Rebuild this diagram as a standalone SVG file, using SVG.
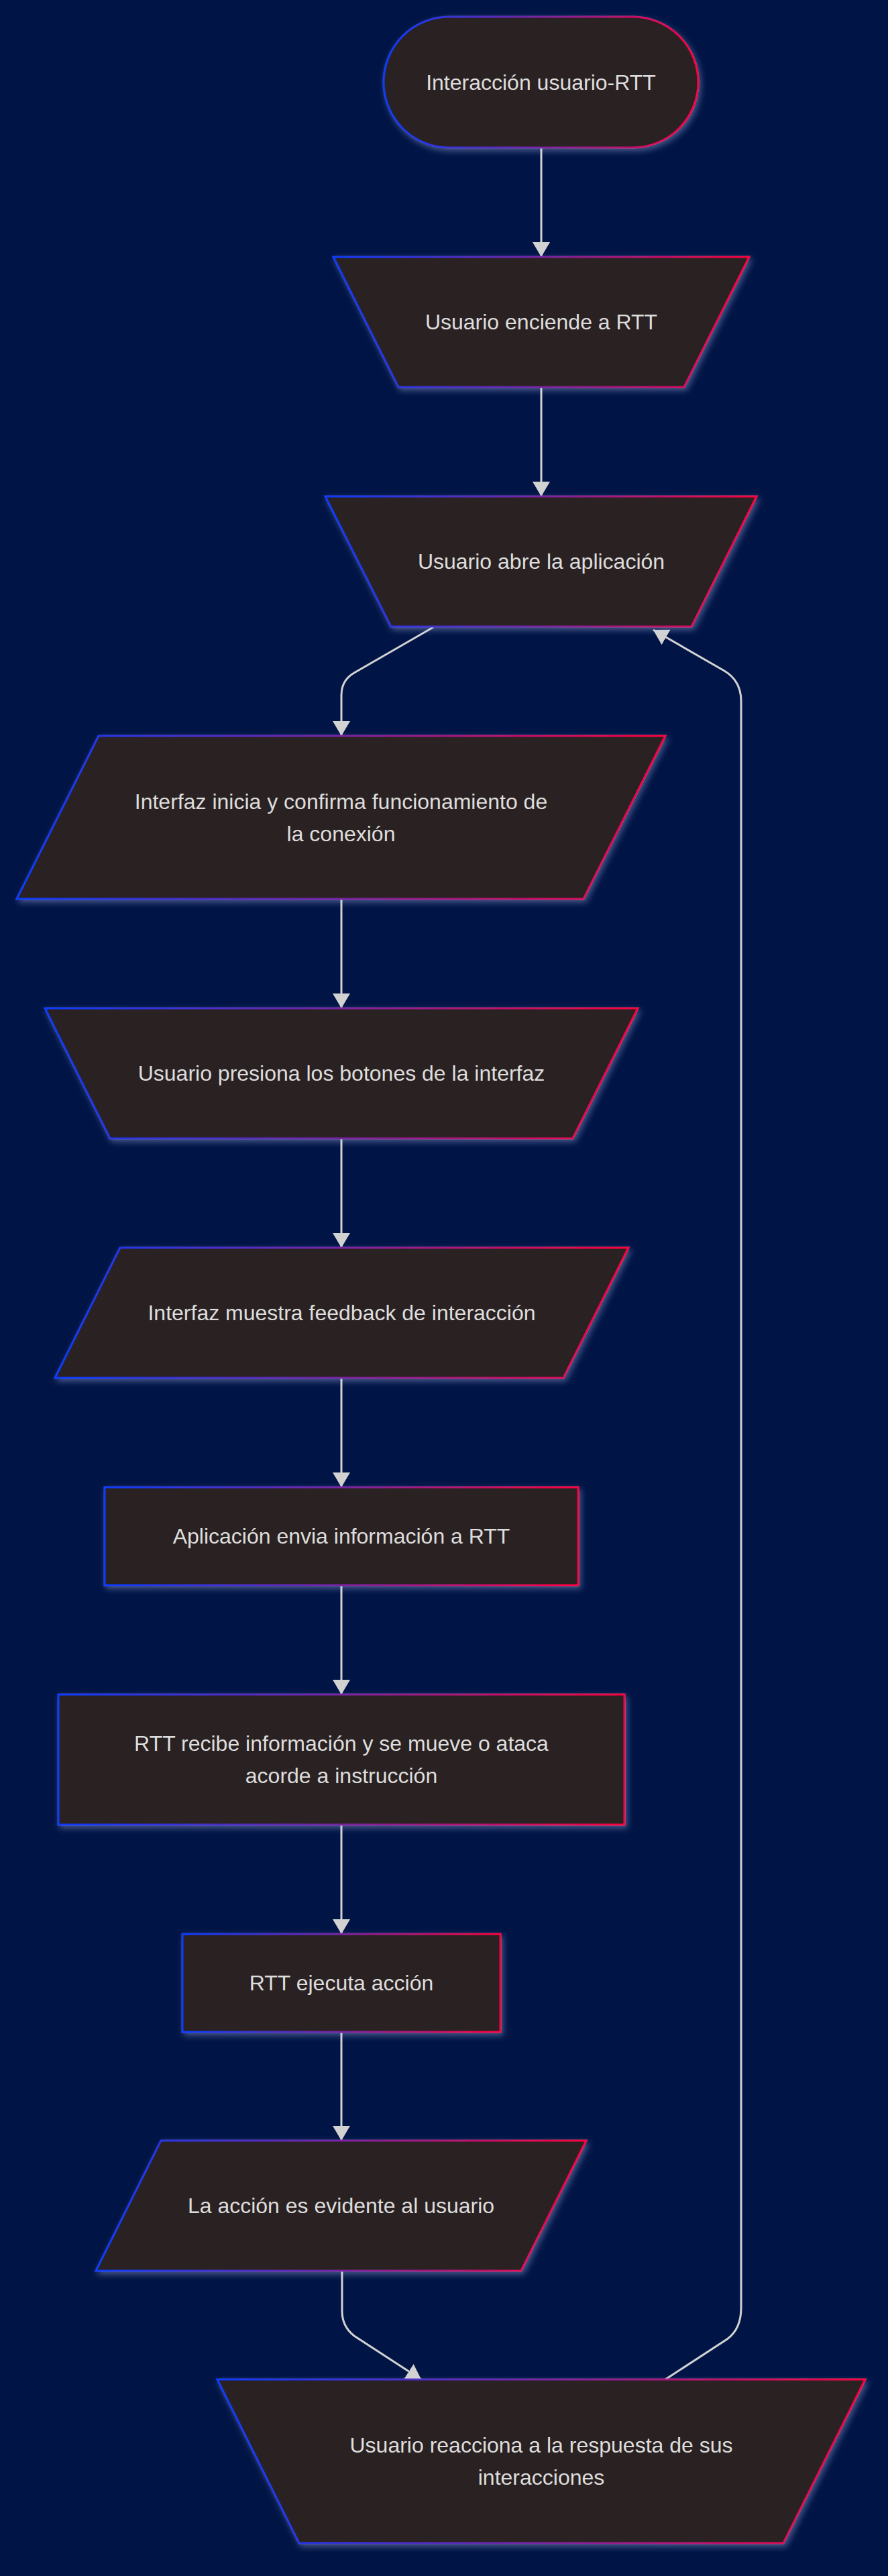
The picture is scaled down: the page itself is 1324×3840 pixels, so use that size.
<svg xmlns="http://www.w3.org/2000/svg" width="1324" height="3840" viewBox="0 0 1324 3840">
<defs>
<linearGradient id="border" x1="0" y1="0" x2="1" y2="0">
<stop offset="0" stop-color="#0a3cff"/>
<stop offset="0.5" stop-color="#7a24a4"/>
<stop offset="1" stop-color="#ff0040"/>
</linearGradient>
<filter id="glow" x="-10%" y="-20%" width="120%" height="150%">
<feDropShadow dx="3" dy="4" stdDeviation="5" flood-color="#c8ccff" flood-opacity="0.35"/>
</filter>
<marker id="arrow" markerUnits="userSpaceOnUse" markerWidth="22" markerHeight="26" refX="22" refY="13" orient="auto">
<path d="M0,0 L22,13 L0,26 z" fill="#d2d2d2"/>
</marker>
<style>
.node-shape { fill: #2b2221; stroke: url(#border); stroke-width: 3; filter: url(#glow); }
.label { font-family: "Liberation Sans", Arial, sans-serif; font-size: 32px; fill: #dedddd; text-anchor: middle; }
.edge { fill: none; stroke: #d2d2d2; stroke-width: 3; marker-end: url(#arrow); }
</style>
</defs>
<rect x="0" y="0" width="1324" height="3840" fill="#001446"/>
<g id="connectors">
<path class="edge" d="M807,220 L807,383"/>
<path class="edge" d="M807,577 L807,740"/>
<path class="edge" d="M646,935 L528,1003 Q509,1014 509,1036 L509,1097"/>
<path class="edge" d="M509,1340 L509,1503"/>
<path class="edge" d="M509,1697 L509,1860"/>
<path class="edge" d="M509,2054 L509,2217"/>
<path class="edge" d="M509,2363 L509,2526"/>
<path class="edge" d="M509,2720 L509,2883"/>
<path class="edge" d="M509,3029 L509,3191"/>
<path class="edge" d="M510,3385 L510,3445 Q510,3468 528,3482 L628,3547"/>
<path class="edge" d="M992,3547 L1084,3487 Q1105,3472 1105,3440 L1105,1045 Q1105,1015 1080,1000 L974,939"/>
</g>
<g id="n1">
<rect class="node-shape" x="572" y="25" width="469" height="195" rx="97.5" ry="97.5"/>
<text class="label" x="806.5" y="134">Interacción usuario-RTT</text>
</g>
<g id="n2">
<polygon class="node-shape" points="497,383 1117,383 1020,577 594,577"/>
<text class="label" x="807" y="491">Usuario enciende a RTT</text>
</g>
<g id="n3">
<polygon class="node-shape" points="485,740 1128,740 1031,934 583,934"/>
<text class="label" x="807" y="848">Usuario abre la aplicación</text>
</g>
<g id="n4">
<polygon class="node-shape" points="147,1097 992,1097 870,1340 25,1340"/>
<text class="label" x="508.5" y="1206">Interfaz inicia y confirma funcionamiento de</text>
<text class="label" x="508.5" y="1254">la conexión</text>
</g>
<g id="n5">
<polygon class="node-shape" points="67,1503 951,1503 854,1697 164,1697"/>
<text class="label" x="509" y="1611">Usuario presiona los botones de la interfaz</text>
</g>
<g id="n6">
<polygon class="node-shape" points="179,1860 937,1860 840,2054 82,2054"/>
<text class="label" x="509.5" y="1968">Interfaz muestra feedback de interacción</text>
</g>
<g id="n7">
<rect class="node-shape" x="156" y="2217" width="706" height="146"/>
<text class="label" x="509" y="2301">Aplicación envia información a RTT</text>
</g>
<g id="n8">
<rect class="node-shape" x="87" y="2526" width="844" height="194"/>
<text class="label" x="509" y="2610">RTT recibe información y se mueve o ataca</text>
<text class="label" x="509" y="2658">acorde a instrucción</text>
</g>
<g id="n9">
<rect class="node-shape" x="272" y="2883" width="474" height="146"/>
<text class="label" x="509" y="2967">RTT ejecuta acción</text>
</g>
<g id="n10">
<polygon class="node-shape" points="240,3191 874,3191 777,3385 143,3385"/>
<text class="label" x="508.5" y="3299">La acción es evidente al usuario</text>
</g>
<g id="n11">
<polygon class="node-shape" points="324,3547 1290,3547 1168,3791 446,3791"/>
<text class="label" x="807" y="3656">Usuario reacciona a la respuesta de sus</text>
<text class="label" x="807" y="3704">interacciones</text>
</g>
</svg>
